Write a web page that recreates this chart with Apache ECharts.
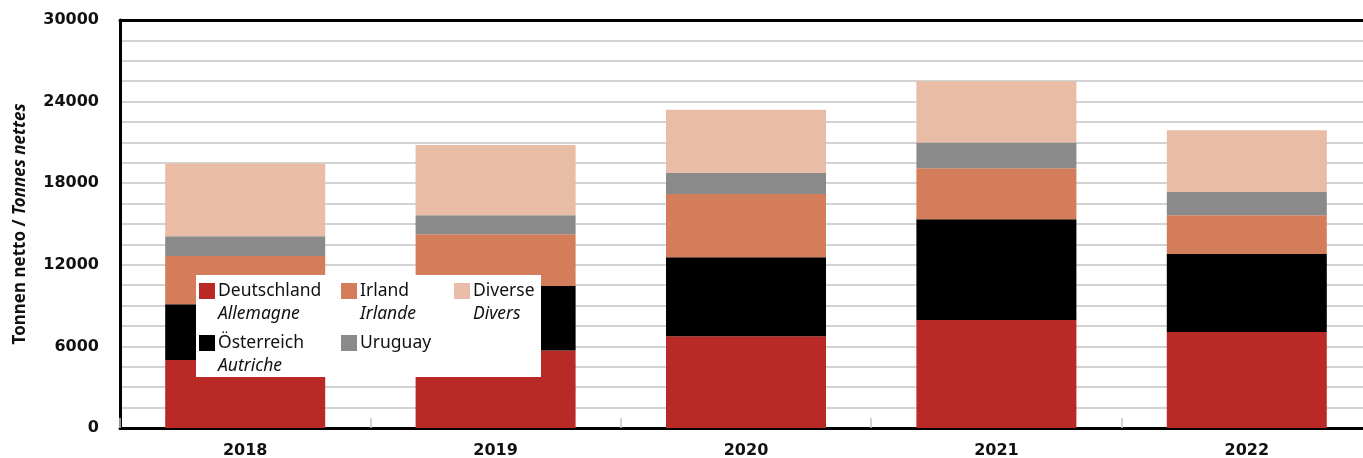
<!DOCTYPE html>
<html>
<head>
<meta charset="utf-8">
<script src="https://cdn.jsdelivr.net/npm/echarts@6/dist/echarts.min.js"></script>
<style>
  html, body { margin: 0; padding: 0; background: #fff; }
  #chart { width: 1363px; height: 458px; }
</style>
</head>
<body>
<div id="chart"></div>
<script>
// Net tonnes by country of origin, 2018–2022
const years = ['2018', '2019', '2020', '2021', '2022'];
const deutschland = [5000, 5700, 6750, 7950, 7050];
const oesterreich = [4100, 4750, 5800, 7400, 5750];
const irland      = [3550, 3800, 4650, 3750, 2850];
const uruguay     = [1450, 1400, 1550, 1900, 1700];
const diverse     = [5350, 5150, 4650, 4500, 4550];
const yTicks = [0, 6000, 12000, 18000, 24000, 30000];

// German / French legend names
const legendNames = {
  'Deutschland': 'Allemagne',
  'Österreich': 'Autriche',
  'Irland': 'Irlande',
  'Uruguay': '',
  'Diverse': 'Divers'
};
const colors = {
  'Deutschland': '#b92a27',
  'Österreich': '#000000',
  'Irland': '#d37d5b',
  'Uruguay': '#898a89',
  'Diverse': '#e8bca5'
};
const keys = { 'Deutschland': 'de', 'Österreich': 'at', 'Irland': 'ie', 'Uruguay': 'uy', 'Diverse': 'dv' };

const legendFont = '"Noto Sans", sans-serif';
const rich = {
  t: { fontFamily: legendFont, fontSize: 17.5, color: '#111', lineHeight: 23 },
  i: { fontFamily: legendFont, fontSize: 17.5, fontStyle: 'italic', color: '#111', lineHeight: 23 },
  sp: { width: 19, height: 16 },
  gap: { width: 3, height: 16 }
};
Object.keys(colors).forEach(function (n) {
  rich['sq_' + keys[n]] = { backgroundColor: colors[n], width: 16, height: 16 };
});

function legendFormatter(name) {
  const first = '{sq_' + keys[name] + '|}{gap|}{t|' + name + '}';
  const fr = legendNames[name];
  return fr ? first + '\n{sp|}{i|' + fr + '}' : first;
}

function makeLegend(data, left) {
  return {
    data: data,
    orient: 'vertical',
    left: left,
    top: 282,
    padding: 0,
    itemGap: 11,
    itemWidth: 0,
    itemHeight: 0,
    icon: 'rect',
    selectedMode: false,
    z: 20,
    formatter: legendFormatter,
    textStyle: { rich: rich, padding: 0 }
  };
}

function barSeries(name, values) {
  return {
    name: name,
    type: 'bar',
    stack: 'total',
    barWidth: 160,
    data: values,
    itemStyle: { color: colors[name] },
    emphasis: { disabled: true }
  };
}

const chart = echarts.init(document.getElementById('chart'), null, { renderer: 'canvas' });
chart.setOption({
  animation: false,
  backgroundColor: '#ffffff',
  grid: {
    left: 120, top: 20, width: 1252, height: 408,
    outerBoundsMode: 'none',
    containLabel: false,
    show: false
  },
  legend: [
    makeLegend(['Deutschland', 'Österreich'], 194),
    makeLegend(['Irland', 'Uruguay'], 336),
    makeLegend(['Diverse'], 449)
  ],
  graphic: [{
    type: 'rect',
    z: 10,
    shape: { x: 196, y: 275, width: 345, height: 102 },
    style: { fill: '#ffffff' }
  }],
  xAxis: [{
    type: 'category',
    data: years,
    axisLine: { show: true, lineStyle: { color: '#000', width: 3 } },
    axisTick: { show: true, inside: true, length: 10, lineStyle: { color: '#c4c4c4', width: 1.5 } },
    axisLabel: {
      margin: 15,
      fontFamily: '"DejaVu Sans", sans-serif',
      fontWeight: 'bold',
      fontSize: 16,
      color: '#111'
    }
  }, {
    // top frame line
    type: 'category',
    data: years,
    position: 'top',
    axisLine: { show: true, lineStyle: { color: '#000', width: 3 } },
    axisTick: { show: false },
    axisLabel: { show: false },
    splitLine: { show: false },
    z: 5
  }],
  yAxis: {
    type: 'value',
    min: 0,
    max: 30000,
    interval: 1500,
    name: '{a|Tonnen netto / }{b|Tonnes nettes}',
    nameLocation: 'middle',
    nameGap: 91,
    nameTextStyle: {
      rich: {
        a: { fontFamily: '"Noto Sans", sans-serif', fontWeight: 'bold', fontSize: 17, color: '#111' },
        b: { fontFamily: '"Noto Sans", sans-serif', fontWeight: 'bold', fontStyle: 'italic', fontSize: 17, color: '#111' }
      }
    },
    axisLine: { show: true, lineStyle: { color: '#000', width: 3 } },
    axisTick: { show: false },
    splitLine: { show: true, lineStyle: { color: '#c4c4c4', width: 1.5 } },
    axisLabel: {
      margin: 21,
      fontFamily: '"DejaVu Sans", sans-serif',
      fontWeight: 'bold',
      fontSize: 16,
      color: '#111',
      formatter: function (v) { return yTicks.indexOf(v) >= 0 ? String(v) : ''; }
    }
  },
  series: [
    barSeries('Deutschland', deutschland),
    barSeries('Österreich', oesterreich),
    barSeries('Irland', irland),
    barSeries('Uruguay', uruguay),
    barSeries('Diverse', diverse)
  ]
});
</script>
</body>
</html>
